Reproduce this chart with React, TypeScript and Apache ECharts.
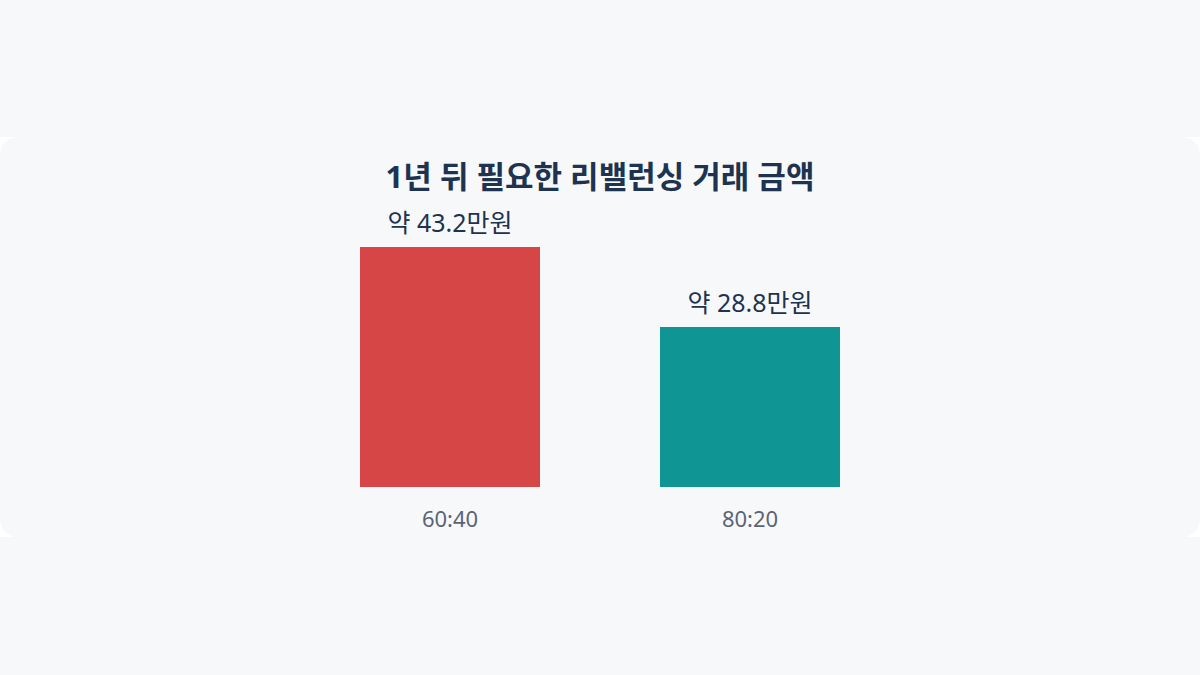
import React, { useEffect, useRef } from "react";
import * as echarts from "echarts";

const titleText = "1년 뒤 필요한 리밸런싱 거래 금액";
const categories = ["60:40", "80:20"];
const values = [43.2, 28.8];
const valueLabels = ["약 43.2만원", "약 28.8만원"];
const barColors = ["#d64646", "#109595"];

const FONT = "'Noto Sans', 'Noto Sans CJK KR', sans-serif";

export default function App() {
  const ref = useRef<HTMLDivElement>(null);
  useEffect(() => {
    document.body.style.margin = "0";
    document.body.style.background = "#f7f8fa";
    const chart = echarts.init(ref.current!, undefined, { renderer: "svg" });
    chart.setOption({
      animation: false,
      backgroundColor: "transparent",
      title: {
        text: titleText,
        left: "center",
        top: 18,
        textStyle: {
          fontFamily: FONT,
          fontSize: 31,
          fontWeight: "bold",
          color: "#1d3350",
        },
      },
      grid: { left: 300, right: 300, top: 110, bottom: 50 },
      xAxis: {
        type: "category",
        data: categories,
        axisLine: { show: false },
        axisTick: { show: false },
        axisLabel: {
          margin: 20,
          fontFamily: FONT,
          fontSize: 22,
          color: "#5b6473",
        },
      },
      yAxis: {
        type: "value",
        min: 0,
        max: 43.2,
        show: false,
        splitLine: { show: false },
      },
      series: [
        {
          type: "bar",
          barWidth: "60%",
          data: values.map((v, i) => ({
            value: v,
            itemStyle: { color: barColors[i] },
            label: { formatter: valueLabels[i] },
          })),
          label: {
            show: true,
            position: "top",
            distance: 13,
            fontFamily: FONT,
            fontSize: 25,
            color: "#1d3350",
          },
        },
      ],
    });
    return () => chart.dispose();
  }, []);
  return (
    <div style={{ position: "fixed", inset: 0, background: "#f7f8fa" }}>
      <div
        style={{
          position: "absolute",
          top: 137,
          left: 0,
          width: 1200,
          height: 400,
          background: "#ffffff",
        }}
      >
        <div
          ref={ref}
          style={{
            width: 1200,
            height: 400,
            background: "#f7f8fa",
            borderRadius: 18,
          }}
        />
      </div>
    </div>
  );
}
